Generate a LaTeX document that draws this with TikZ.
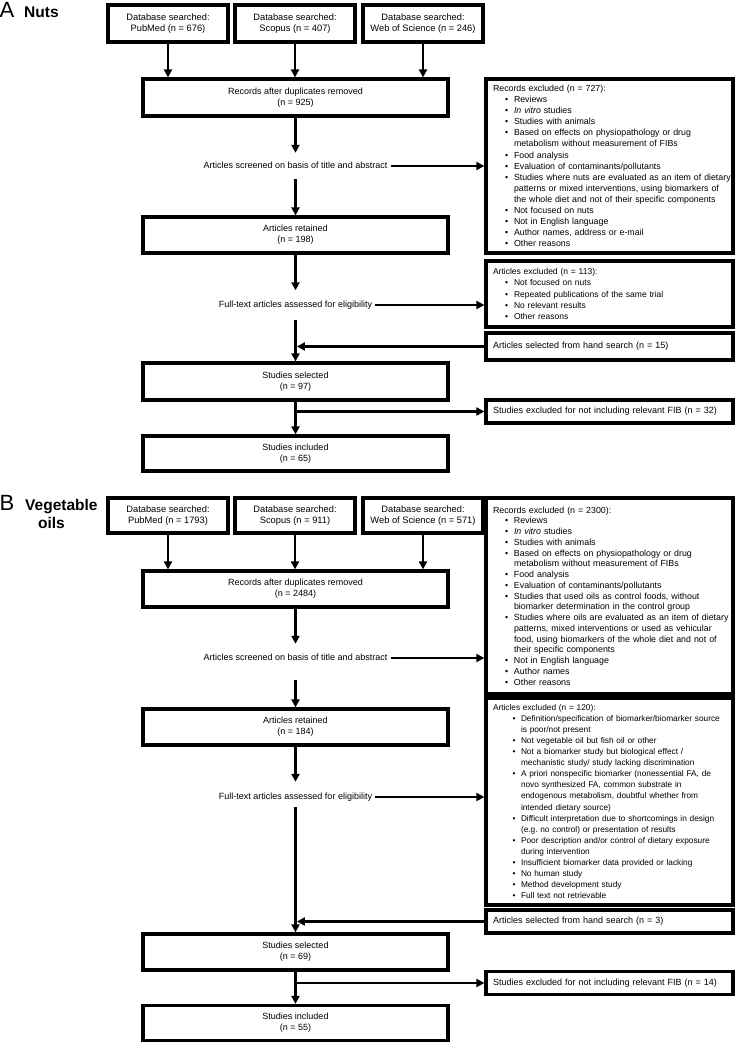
\documentclass[tikz,border=0pt]{standalone}
\usepackage{fontspec}
\setmainfont{Liberation Sans}
\usetikzlibrary{arrows.meta,calc}
\newcommand{\bi}[1]{\mbox{\hspace*{12pt}\makebox[9pt][l]{\textbullet}#1}}
\newcommand{\ci}[1]{\mbox{\hspace*{21pt}#1}}
\newcommand{\bj}[1]{\mbox{\hspace*{19.5pt}\makebox[8.5pt][l]{\textbullet}#1}}
\newcommand{\cj}[1]{\mbox{\hspace*{28pt}#1}}
\begin{document}
\begin{tikzpicture}[x=1pt,y=-1pt,
  font=\fontsize{9}{10.8}\selectfont,
  mainbox/.style={draw, line width=3.2pt, minimum width=305pt, minimum height=36pt, inner sep=0pt, align=center},
  dbbox/.style={draw, line width=3.2pt, minimum width=120pt, minimum height=36pt, inner sep=0pt, align=center, font=\fontsize{9.3}{10.8}\selectfont},
  sidebox/.style={draw, line width=3.2pt, minimum width=247pt, inner xsep=7pt, inner ysep=0pt, text width=233pt, align=left},
  steplabel/.style={inner xsep=3pt, text height=7pt, text depth=2pt},
  arr/.style={line width=2.8pt, -{Triangle[length=8pt,width=8pt]}},
  panel/.style={anchor=base west, inner sep=0pt, font=\fontsize{22}{22}\selectfont},
  paneltitle/.style={inner sep=0pt, font=\bfseries\fontsize{15.5}{15.5}\selectfont}]
\useasboundingbox (0,0) rectangle (736,1043);

%% ---------------- Panel A ----------------
\node[panel] (labA) at (-0.5,18) {A};
\node[paneltitle, anchor=base west] (titA) at (24,18) {Nuts};

\node[dbbox, minimum height=37pt] (dA1) at (168,23.5) {Database searched:\\PubMed (n = 676)};
\node[dbbox, minimum height=37pt] (dA2) at (295,23.5) {Database searched:\\Scopus (n = 407)};
\node[dbbox, minimum height=37pt] (dA3) at (423,23.5) {Database searched:\\Web of Science (n = 246)};

\node[mainbox, minimum height=37pt] (recA) at (295.5,97.5) {Records after duplicates removed\\(n = 925)};
\node[sidebox, minimum height=174pt, font=\fontsize{8.8}{11.1}\selectfont] (rexA) at (609.5,166) {Records excluded (n = 727):\\
  \bi{Reviews}\\
  \bi{\textit{In vitro} studies}\\
  \bi{Studies with animals}\\
  \bi{Based on effects on physiopathology or drug}\\
  \ci{metabolism without measurement of FIBs}\\
  \bi{Food analysis}\\
  \bi{Evaluation of contaminants/pollutants}\\
  \bi{Studies where nuts are evaluated as an item of dietary}\\
  \ci{patterns or mixed interventions, using biomarkers of}\\
  \ci{the whole diet and not of their specific components}\\
  \bi{Not focused on nuts}\\
  \bi{Not in English language}\\
  \bi{Author names, address or e-mail}\\
  \bi{Other reasons}};
\node[steplabel, inner ysep=8.5pt] (scA) at (295.5,166) {Articles screened on basis of title and abstract};

\node[mainbox] (retA) at (295.5,235) {Articles retained\\(n = 198)};
\node[steplabel, inner ysep=10pt] (ftA) at (295.5,305) {Full-text articles assessed for eligibility};
\node[sidebox, minimum height=66pt, font=\fontsize{8.5}{11.4}\selectfont] (aexA) at (609.5,294) {Articles excluded (n = 113):\\
  \bi{Not focused on nuts}\\
  \bi{Repeated publications of the same trial}\\
  \bi{No relevant results}\\
  \bi{Other reasons}};
\node[sidebox, minimum height=27pt] (hA) at (609.5,346.5) {Articles selected from hand search (n = 15)};
\node[mainbox, minimum height=37pt] (selA) at (295.5,381.5) {Studies selected\\(n = 97)};
\node[sidebox, minimum height=23pt] (sxA) at (609.5,411.5) {Studies excluded for not including relevant FIB (n = 32)};
\node[mainbox, minimum height=35pt] (incA) at (295.5,453.5) {Studies included\\(n = 65)};

\draw[arr] (dA1.south) -- (dA1.south |- recA.north);
\draw[arr] (dA2.south) -- (dA2.south |- recA.north);
\draw[arr] (dA3.south) -- (dA3.south |- recA.north);
\draw[arr] (recA.south) -- (scA.north);
\draw[arr] (scA.east) -- (scA.east -| rexA.west);
\draw[arr] (scA.south) -- (retA.north);
\draw[arr] (retA.south) -- (ftA.north);
\draw[arr] (ftA.east) -- (ftA.east -| aexA.west);
\draw[arr] (ftA.south) -- (selA.north);
\draw[arr, shorten >=1.4pt] (hA.west) -- (hA.west -| selA.north);
\draw[arr] (selA.south) -- (incA.north);
\draw[arr] (selA.south |- sxA.west) -- (sxA.west);

%% ---------------- Panel B ----------------
\node[panel] (labB) at (-0.5,510) {B};
\node[paneltitle, anchor=base west] (titB) at (25,510) {Vegetable};
\node[paneltitle, anchor=base] (titB2) at (51.5,528) {oils};

\node[dbbox, minimum height=35pt] (dB1) at (168,515.5) {Database searched:\\PubMed (n = 1793)};
\node[dbbox, minimum height=35pt] (dB2) at (295,515.5) {Database searched:\\Scopus (n = 911)};
\node[dbbox, minimum height=35pt] (dB3) at (423,515.5) {Database searched:\\Web of Science (n = 571)};

\node[mainbox] (recB) at (295.5,589) {Records after duplicates removed\\(n = 2484)};
\node[sidebox, minimum height=196pt, font=\fontsize{8.85}{10.75}\selectfont] (rexB) at (609.5,596) {Records excluded (n = 2300):\\
  \bi{Reviews}\\
  \bi{\textit{In vitro} studies}\\
  \bi{Studies with animals}\\
  \bi{Based on effects on physiopathology or drug}\\
  \ci{metabolism without measurement of FIBs}\\
  \bi{Food analysis}\\
  \bi{Evaluation of contaminants/pollutants}\\
  \bi{Studies that used oils as control foods, without}\\
  \ci{biomarker determination in the control group}\\
  \bi{Studies where oils are evaluated as an item of dietary}\\
  \ci{patterns, mixed interventions or used as vehicular}\\
  \ci{food, using biomarkers of the whole diet and not of}\\
  \ci{their specific components}\\
  \bi{Not in English language}\\
  \bi{Author names}\\
  \bi{Other reasons}};
\node[steplabel, inner ysep=9.5pt] (scB) at (295.5,658) {Articles screened on basis of title and abstract};

\node[mainbox] (retB) at (295.5,727) {Articles retained\\(n = 184)};
\node[sidebox, minimum height=207pt, font=\fontsize{8.3}{11.1}\selectfont] (aexB) at (609.5,801.5) {Articles excluded (n = 120):\\
  \bj{Definition/specification of biomarker/biomarker source}\\
  \cj{is poor/not present}\\
  \bj{Not vegetable oil but fish oil or other}\\
  \bj{Not a biomarker study but biological effect /}\\
  \cj{mechanistic study/ study lacking discrimination}\\
  \bj{A priori nonspecific biomarker (nonessential FA, de}\\
  \cj{novo synthesized FA, common substrate in}\\
  \cj{endogenous metabolism, doubtful whether from}\\
  \cj{intended dietary source)}\\
  \bj{Difficult interpretation due to shortcomings in design}\\
  \cj{(e.g.\ no control) or presentation of results}\\
  \bj{Poor description and/or control of dietary exposure}\\
  \cj{during intervention}\\
  \bj{Insufficient biomarker data provided or lacking}\\
  \bj{No human study}\\
  \bj{Method development study}\\
  \bj{Full text not retrievable}};
\node[steplabel, inner ysep=10.5pt] (ftB) at (295.5,797) {Full-text articles assessed for eligibility};
\node[sidebox, minimum height=23pt] (hB) at (609.5,921.5) {Articles selected from hand search (n = 3)};
\node[mainbox] (selB) at (295.5,952) {Studies selected\\(n = 69)};
\node[sidebox, minimum height=23pt] (sxB) at (609.5,983) {Studies excluded for not including relevant FIB (n = 14)};
\node[mainbox, minimum height=35pt] (incB) at (295.5,1023) {Studies included\\(n = 55)};

\draw[arr] (dB1.south) -- (dB1.south |- recB.north);
\draw[arr] (dB2.south) -- (dB2.south |- recB.north);
\draw[arr] (dB3.south) -- (dB3.south |- recB.north);
\draw[arr] (recB.south) -- (scB.north);
\draw[arr] (scB.east) -- (scB.east -| rexB.west);
\draw[arr] ([yshift=-8pt]scB.south) -- (retB.north);
\draw[arr] (retB.south) -- (ftB.north);
\draw[arr] (ftB.east) -- (ftB.east -| aexB.west);
\draw[arr] ([yshift=5pt]ftB.south) -- (selB.north);
\draw[arr, shorten >=1.4pt] (hB.west) -- (hB.west -| selB.north);
\draw[arr] (selB.south) -- (incB.north);
\draw[arr] (selB.south |- sxB.west) -- (sxB.west);
\end{tikzpicture}
\end{document}
